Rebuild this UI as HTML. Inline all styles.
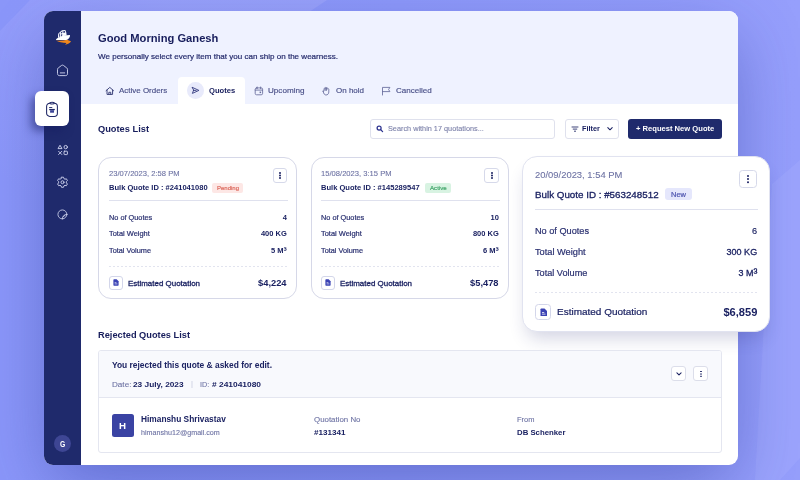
<!DOCTYPE html>
<html lang="en">
<head>
<meta charset="utf-8">
<title>Quotes Dashboard</title>
<style>
*{box-sizing:border-box;margin:0;padding:0}
html,body{width:800px;height:480px;overflow:hidden}
body{font-family:"Liberation Sans",sans-serif;color:#1b2262;position:relative;background:linear-gradient(90deg,#8b97fa 0%,#8f9afb 50%,#969ffc 100%)}
.abs{position:absolute}
.t{position:absolute;white-space:nowrap;line-height:1}
#win{position:absolute;left:44px;top:11.3px;width:694px;height:454.2px;border-radius:9px;background:#fff;
box-shadow:0 22px 68px -6px rgba(32,46,140,.42);overflow:hidden}
#side{position:absolute;left:0;top:0;width:37px;height:454px;background:#1f2a6c}
#head{position:absolute;left:37px;top:0;width:657px;height:92.7px;background:#eff2ff}
.card{position:absolute;background:#fff;border:1px solid #d6d8e8;border-radius:13px}
.btn{position:absolute;border:1px solid #dfe1ed;border-radius:3px;background:#fff}
.hr{position:absolute;height:1px;background:#dfe1ee}
.dash{position:absolute;height:1px;background:repeating-linear-gradient(90deg,#e2e4ef 0 2px,transparent 2px 4px)}
.badge{position:absolute;border-radius:2px}
.dots{position:absolute;width:2px;height:2px;border-radius:50%;background:#1b2262;box-shadow:0 2.5px 0 #1b2262,0 5px 0 #1b2262}
.ibox{position:absolute;border:1px solid #d3d6ea;border-radius:3px;background:#fff}
</style>
</head>
<body>
<!-- background decorative shapes -->
<svg class="abs" style="left:0;top:0" width="800" height="480" viewBox="0 0 800 480">
  <defs><linearGradient id="bg1" gradientUnits="userSpaceOnUse" x1="160" y1="0" x2="20" y2="190"><stop offset="0" stop-color="#9da5fc" stop-opacity=".8"/><stop offset=".45" stop-color="#9ba2fc" stop-opacity=".55"/><stop offset="1" stop-color="#9ba2fc" stop-opacity="0"/></linearGradient></defs>
  <polygon points="30,0 327,0 0,218 0,31" fill="url(#bg1)"/>
  <polygon points="800,160 772,184 755,480 780,480 800,458" fill="#9ea6fd" opacity=".7"/>
</svg>

<div id="win">
  <div id="side"></div>
  <div id="head"></div>
</div>

<div id="content" class="abs" style="left:0;top:0;width:800px;height:480px">

<!-- sidebar: logo -->
<svg class="abs" style="left:54px;top:28px" width="19" height="18" viewBox="0 0 19 18">
  <path d="M3.9 10 L4.2 5.7 L6.2 3.7 L8 2.3 L11.3 2 L12.3 4.6 L12.7 7.4 L9.4 8 Z" fill="#f7f8fc"/>
  <path d="M1.9 11.9 C2.4 10.8 3.4 10.1 4.6 9.8 L9.4 7.6 L16 6.9 C16.2 8.8 15 10.8 12.8 11.9 Z" fill="#ffffff"/>
  <path d="M5.1 5.9 L5.9 5.1 L5.9 8.6 L5.1 9 Z M6.9 4.3 L8.5 3.2 L8.3 4.8 L6.9 5.8 Z M9.4 3.1 L10.8 3 L11.2 4.4 L9.4 4.9 Z M6.9 6.8 L8.2 6 L8.2 7.6 L6.9 8.3 Z" fill="#2b3474"/>
  <path d="M1.9 12.4 C5 13 9.5 12.7 13 11.8 L17 13.2 C16.2 15 13.8 16 10.8 16.7 C11.9 15.8 12.3 15.3 12.4 14.9 C8.5 14.8 4.5 14 1.9 12.4 Z" fill="#f0871c"/>
</svg>
<!-- sidebar: home -->
<svg class="abs" style="left:56px;top:64px" width="13" height="13" viewBox="0 0 13 13" fill="none" stroke="#c9cdea" stroke-width="0.95" stroke-linejoin="round" stroke-linecap="round">
  <path d="M1.5 5.3 C1.5 4.7 1.8 4.3 2.2 4 L5.6 1.4 C6.2 1 6.8 1 7.4 1.4 L10.8 4 C11.2 4.3 11.5 4.7 11.5 5.3 V9.8 C11.5 10.9 10.7 11.6 9.7 11.6 H3.3 C2.3 11.6 1.5 10.9 1.5 9.8 Z"/>
  <path d="M4.3 8.9 H8.7"/>
</svg>
<!-- sidebar: active item -->
<div class="abs" style="left:34.5px;top:91.4px;width:34.5px;height:35px;border-radius:6px;background:#fff;box-shadow:-4px 5px 9px rgba(22,28,95,.5)"></div>
<svg class="abs" style="left:45px;top:101px" width="14" height="17" viewBox="0 0 14 17" fill="none" stroke="#1f2765" stroke-width="1.05" stroke-linejoin="round" stroke-linecap="round">
  <rect x="1.6" y="2.2" width="10.8" height="13.2" rx="3.2"/>
  <path d="M4.6 2.3 C4.6 0.9 9.4 0.9 9.4 2.3 C9.4 3.2 4.6 3.2 4.6 2.3 Z" fill="#fff"/>
  <path d="M4.5 6.5 H6.9" stroke="#1f2765" stroke-width="0.9"/>
  <rect x="4.2" y="7.9" width="5.6" height="1.3" fill="#1f2765" stroke="none"/>
  <rect x="5.1" y="9.2" width="3.9" height="2.5" fill="#3a4296" stroke="none"/>
</svg>
<!-- sidebar: shapes icon -->
<svg class="abs" style="left:57px;top:144px" width="12" height="12" viewBox="0 0 12 12" fill="none" stroke="#c9cdea" stroke-width="0.95" stroke-linejoin="round" stroke-linecap="round">
  <path d="M3.2 1.6 L5 4.6 H1.4 Z"/>
  <circle cx="8.7" cy="3.1" r="1.7"/>
  <path d="M1.6 7.3 L4.8 10.5 M4.8 7.3 L1.6 10.5"/>
  <rect x="7" y="7.2" width="3.4" height="3.4" rx="0.6"/>
</svg>
<!-- sidebar: gear -->
<svg class="abs" style="left:56px;top:175.6px" width="13" height="13" viewBox="0 0 13 13" fill="none" stroke="#c9cdea" stroke-width="0.95" stroke-linejoin="round" stroke-linecap="round">
  <path d="M5.5 1.2 H7.5 L7.9 2.6 L9 3.2 L10.4 2.8 L11.4 4.5 L10.4 5.6 V6.9 L11.4 8 L10.4 9.7 L9 9.3 L7.9 9.9 L7.5 11.3 H5.5 L5.1 9.9 L4 9.3 L2.6 9.7 L1.6 8 L2.6 6.9 V5.6 L1.6 4.5 L2.6 2.8 L4 3.2 L5.1 2.6 Z"/>
  <circle cx="6.5" cy="6.25" r="1.5"/>
</svg>
<!-- sidebar: sticker/circle -->
<svg class="abs" style="left:56.9px;top:209.3px" width="11.2" height="11.2" viewBox="0 0 12 12" fill="none" stroke="#c9cdea" stroke-width="0.95" stroke-linejoin="round" stroke-linecap="round">
  <path d="M10.6 5.8 A4.8 4.8 0 1 0 5.8 10.6 C8.4 10.4 10.4 8.4 10.6 5.8 Z"/>
  <path d="M5.8 10.6 C5.6 7.8 7.6 5.7 10.6 5.8"/>
  <path d="M6.6 8.6 L8.6 6.6"/>
</svg>
<!-- sidebar: avatar -->
<div class="abs" style="left:54px;top:434.8px;width:17px;height:17px;border-radius:50%;background:#3e4694"></div>

<!-- tabs -->
<div class="abs" style="left:178px;top:77px;width:67px;height:27px;background:#fff;border-radius:4px 4px 0 0"></div>
<svg class="abs" style="left:105.2px;top:86.2px" width="9.6" height="9.6" viewBox="0 0 9 9" fill="none" stroke="#3a4078" stroke-width="0.9" stroke-linejoin="round" stroke-linecap="round"><path d="M1 4.4 L4.5 1.3 L8 4.4 M1.9 3.8 V7.9 H7.1 V3.8 M3.6 7.9 V5.9 H5.4 V7.9"/></svg>
<div class="abs" style="left:187px;top:82px;width:16.6px;height:16.6px;border-radius:50%;background:#e8eafb"></div>
<svg class="abs" style="left:191px;top:86px" width="9" height="9" viewBox="0 0 9 9" fill="none" stroke="#2a3178" stroke-width="0.85" stroke-linejoin="round" stroke-linecap="round"><path d="M1.4 1.4 L7.9 4.4 L1.4 7.4 L2.5 4.4 Z M2.5 4.4 H5.1"/></svg>
<svg class="abs" style="left:253.8px;top:85.8px" width="10" height="10" viewBox="0 0 10 10" fill="none" stroke="#676c9c" stroke-width="0.85" stroke-linejoin="round" stroke-linecap="round"><rect x="1.2" y="1.9" width="7.4" height="6.9" rx="1.4"/><path d="M1.2 4.1 H8.6 M3.2 1 V2.7 M6.6 1 V2.7"/><rect x="5.6" y="5.6" width="1.5" height="1.5" fill="#676c9c" stroke="none"/></svg>
<svg class="abs" style="left:321.2px;top:86px" width="10" height="10" viewBox="0 0 10 10" fill="none" stroke="#676c9c" stroke-width="0.85" stroke-linejoin="round" stroke-linecap="round"><path d="M2.2 5.6 C1.6 4.4 2.6 3.8 3.2 4.6 V2.6 C3.2 1.8 4.3 1.8 4.3 2.6 V1.9 C4.3 1.1 5.5 1.1 5.5 1.9 V2.3 C5.5 1.6 6.7 1.6 6.7 2.4 V3.2 C6.7 2.6 7.8 2.6 7.8 3.4 V6 C7.8 7.8 6.6 9 5 9 C3.6 9 2.8 8 2.2 5.6 Z"/><path d="M4.3 2.6 V4.4 M5.5 2.3 V4.4"/></svg>
<svg class="abs" style="left:381.2px;top:86px" width="10" height="10" viewBox="0 0 10 10" fill="none" stroke="#676c9c" stroke-width="0.85" stroke-linejoin="round" stroke-linecap="round"><path d="M1.5 9 V1.4 H8.9 L7.6 3.5 L8.9 5.6 H1.5"/></svg>

<!-- toolbar -->
<div class="btn" style="left:370px;top:118.5px;width:185px;height:20px"></div>
<svg class="abs" style="left:376.3px;top:124.8px" width="8" height="8" viewBox="0 0 8 8" fill="none" stroke="#2f3590" stroke-width="1.25" stroke-linecap="round"><circle cx="3.1" cy="3.1" r="2"/><path d="M4.8 4.8 L6.6 6.6"/></svg>
<div class="btn" style="left:564.5px;top:118.5px;width:54px;height:20px"></div>
<svg class="abs" style="left:570.7px;top:124.5px" width="8" height="8" viewBox="0 0 8 8" fill="none" stroke="#1b2262" stroke-width="0.85"><path d="M0.6 2 H7.4 M1.8 4.1 H6.2 M3 6.2 H5"/></svg>
<svg class="abs" style="left:605.6px;top:125.6px" width="8" height="6" viewBox="0 0 8 6" fill="none" stroke="#1b2262" stroke-width="1.05" stroke-linecap="round" stroke-linejoin="round"><path d="M1.8 1.6 L4 3.8 L6.2 1.6"/></svg>
<div class="abs" style="left:627.7px;top:118.5px;width:94.3px;height:20px;border-radius:3px;background:#1f2a6c"></div>

<!-- card 1 -->
<div class="card" style="left:98px;top:157px;width:199.4px;height:141.6px"></div>
<div class="badge" style="left:212px;top:183px;width:31.4px;height:9.6px;background:#fde7e5"></div>
<div class="btn" style="left:272.6px;top:168.4px;width:14.4px;height:14.2px;border-color:#d6d9ea"></div>
<div class="dots" style="left:278.8px;top:172px"></div>
<div class="hr" style="left:108.8px;top:199.8px;width:178.8px"></div>
<div class="dash" style="left:108.8px;top:266.4px;width:178.8px"></div>
<div class="ibox" style="left:108.8px;top:276px;width:13.8px;height:13.6px"></div>
<svg class="abs" style="left:113px;top:279.3px" width="6" height="7" viewBox="0 0 6 7"><path d="M0.4 0.9 C0.4 0.5 0.7 0.3 1 0.3 H3.6 L5.6 2.3 V6.1 C5.6 6.4 5.3 6.7 5 6.7 H1 C0.7 6.7 0.4 6.4 0.4 6.1 Z" fill="#3a42b4"/><path d="M1.6 3.6 H3.4 M1.6 4.9 H4.4" stroke="#fff" stroke-width="0.6"/></svg>

<!-- card 2 -->
<div class="card" style="left:310.6px;top:157px;width:198.6px;height:141.6px"></div>
<div class="badge" style="left:425px;top:183px;width:26px;height:9.6px;background:#d8f3e2"></div>
<div class="btn" style="left:484.4px;top:168.4px;width:14.4px;height:14.2px;border-color:#d6d9ea"></div>
<div class="dots" style="left:490.8px;top:172px"></div>
<div class="hr" style="left:320.8px;top:199.8px;width:178.8px"></div>
<div class="dash" style="left:320.8px;top:266.4px;width:178.8px"></div>
<div class="ibox" style="left:320.8px;top:276px;width:13.8px;height:13.6px"></div>
<svg class="abs" style="left:325px;top:279.3px" width="6" height="7" viewBox="0 0 6 7"><path d="M0.4 0.9 C0.4 0.5 0.7 0.3 1 0.3 H3.6 L5.6 2.3 V6.1 C5.6 6.4 5.3 6.7 5 6.7 H1 C0.7 6.7 0.4 6.4 0.4 6.1 Z" fill="#3a42b4"/><path d="M1.6 3.6 H3.4 M1.6 4.9 H4.4" stroke="#fff" stroke-width="0.6"/></svg>

<!-- card 3 (highlighted) -->
<div class="abs" style="left:522px;top:156px;width:248.2px;height:176px;border-radius:15px;background:#fff;border:1px solid #e1e3f0;box-shadow:0 11px 18px -5px rgba(30,35,110,.2)"></div>
<div class="badge" style="left:665.2px;top:188px;width:26.4px;height:12.4px;border-radius:3px;background:#e5e7fc"></div>
<div class="btn" style="left:739.4px;top:169.6px;width:18px;height:18px;border-color:#d6d9ea;border-radius:3.5px"></div>
<div class="dots" style="left:747.2px;top:174.9px;width:2.2px;height:2.2px;box-shadow:0 3.1px 0 #1b2262,0 6.2px 0 #1b2262"></div>
<div class="hr" style="left:535px;top:209.2px;width:223px"></div>
<div class="dash" style="left:535px;top:292.2px;width:223px"></div>
<div class="ibox" style="left:535px;top:304px;width:16px;height:15.8px;border-radius:3.5px"></div>
<svg class="abs" style="left:539.5px;top:307.6px" width="7.5" height="8.75" viewBox="0 0 6 7"><path d="M0.4 0.9 C0.4 0.5 0.7 0.3 1 0.3 H3.6 L5.6 2.3 V6.1 C5.6 6.4 5.3 6.7 5 6.7 H1 C0.7 6.7 0.4 6.4 0.4 6.1 Z" fill="#3a42b4"/><path d="M1.6 3.6 H3.4 M1.6 4.9 H4.4" stroke="#fff" stroke-width="0.6"/></svg>

<!-- rejected quotes -->
<div class="abs" style="left:97.6px;top:350.4px;width:624.6px;height:102.2px;border:1px solid #e4e6f0;border-radius:3px;background:#fff;overflow:hidden">
  <div class="abs" style="left:0;top:0;width:100%;height:46.5px;background:#f8f9fd;border-bottom:1px solid #e4e6f0"></div>
</div>
<div class="btn" style="left:671.2px;top:366.4px;width:15.3px;height:15px;border-color:#dcdeea"></div>
<svg class="abs" style="left:674.9px;top:370.9px" width="8" height="6" viewBox="0 0 8 6" fill="none" stroke="#1b2262" stroke-width="1.05" stroke-linecap="round" stroke-linejoin="round"><path d="M1.9 1.8 L4 3.9 L6.1 1.8"/></svg>
<div class="btn" style="left:693px;top:366.4px;width:15.3px;height:15px;border-color:#dcdeea"></div>
<div class="dots" style="left:699.8px;top:370.5px;width:1.8px;height:1.8px;box-shadow:0 2.4px 0 #1b2262,0 4.8px 0 #1b2262"></div>
<div class="abs" style="left:111.6px;top:414px;width:22.4px;height:22.6px;border-radius:2.5px;background:#3a43a3"></div>

<div class="t" style="left:98px;top:32.7px;font-size:11.8px;color:#171d5c;font-weight:bold;transform:scaleX(0.9470);transform-origin:0 0">Good Morning Ganesh</div>
<div class="t" style="left:98px;top:52.6px;font-size:8px;color:#252b6c;-webkit-text-stroke:0.2px #252b6c;transform:scaleX(1.0057);transform-origin:0 0">We personally select every item that you can ship on the wearness.</div>
<div class="t" style="left:119.2px;top:87.4px;font-size:7.6px;color:#4a5088;-webkit-text-stroke:0.15px #4a5088;transform:scaleX(1.0478);transform-origin:0 0">Active Orders</div>
<div class="t" style="left:209.4px;top:87.4px;font-size:7.6px;color:#171d5c;font-weight:bold;transform:scaleX(1.0011);transform-origin:0 0">Quotes</div>
<div class="t" style="left:268.3px;top:87.4px;font-size:7.6px;color:#4a5088;-webkit-text-stroke:0.15px #4a5088;transform:scaleX(1.0676);transform-origin:0 0">Upcoming</div>
<div class="t" style="left:336.3px;top:87.4px;font-size:7.6px;color:#4a5088;-webkit-text-stroke:0.15px #4a5088;transform:scaleX(1.0523);transform-origin:0 0">On hold</div>
<div class="t" style="left:396px;top:87.4px;font-size:7.6px;color:#4a5088;-webkit-text-stroke:0.15px #4a5088;transform:scaleX(1.0598);transform-origin:0 0">Cancelled</div>
<div class="t" style="left:98px;top:124px;font-size:9.6px;color:#171d5c;font-weight:bold;transform:scaleX(0.9663);transform-origin:0 0">Quotes List</div>
<div class="t" style="left:387.6px;top:125.4px;font-size:7.3px;color:#7a7fa8;-webkit-text-stroke:0.1px #7a7fa8;transform:scaleX(1.0007);transform-origin:0 0">Search within 17 quotations...</div>
<div class="t" style="left:581.5px;top:125.4px;font-size:7.6px;color:#1b2262;font-weight:bold;transform:scaleX(0.9581);transform-origin:0 0">Filter</div>
<div class="t" style="left:636px;top:125.3px;font-size:7.8px;color:#ffffff;font-weight:bold;transform:scaleX(0.9742);transform-origin:0 0">+ Request New Quote</div>
<div class="t" style="left:108.8px;top:169.6px;font-size:7.6px;color:#6d72a3;-webkit-text-stroke:0.1px #6d72a3;transform:scaleX(1.0012);transform-origin:0 0">23/07/2023, 2:58 PM</div>
<div class="t" style="left:108.8px;top:184.4px;font-size:7.8px;color:#1b2262;font-weight:bold;transform:scaleX(0.9681);transform-origin:0 0">Bulk Quote ID : #241041080</div>
<div class="t" style="left:108.8px;top:213.5px;font-size:7.3px;color:#2a3070;-webkit-text-stroke:0.2px #2a3070;transform:scaleX(1.0047);transform-origin:0 0">No of Quotes</div>
<div class="t" style="left:108.8px;top:230.1px;font-size:7.3px;color:#2a3070;-webkit-text-stroke:0.2px #2a3070;transform:scaleX(1.0192);transform-origin:0 0">Total Weight</div>
<div class="t" style="left:108.8px;top:247px;font-size:7.3px;color:#2a3070;-webkit-text-stroke:0.2px #2a3070;transform:scaleX(1.0052);transform-origin:0 0">Total Volume</div>
<div class="t" style="right:513.2px;top:213.5px;font-size:7.5px;color:#1b2262;font-weight:bold">4</div>
<div class="t" style="right:513.2px;top:230.1px;font-size:7.5px;color:#1b2262;font-weight:bold">400 KG</div>
<div class="t" style="right:513.2px;top:247px;font-size:7.5px;color:#1b2262;font-weight:bold">5 M<span style="font-size:1.3em;line-height:0;vertical-align:-0.12em">³</span></div>
<div class="t" style="left:127.6px;top:279.7px;font-size:7.8px;color:#1b2262;-webkit-text-stroke:0.3px #1b2262;transform:scaleX(1.0190);transform-origin:0 0">Estimated Quotation</div>
<div class="t" style="right:513.2px;top:279px;font-size:9px;color:#1b2262;font-weight:bold;transform:scaleX(1.0352);transform-origin:100% 0">$4,224</div>
<div class="t" style="left:320.8px;top:169.6px;font-size:7.6px;color:#6d72a3;-webkit-text-stroke:0.1px #6d72a3;transform:scaleX(1.0012);transform-origin:0 0">15/08/2023, 3:15 PM</div>
<div class="t" style="left:320.8px;top:184.4px;font-size:7.8px;color:#1b2262;font-weight:bold;transform:scaleX(0.9681);transform-origin:0 0">Bulk Quote ID : #145289547</div>
<div class="t" style="left:320.8px;top:213.5px;font-size:7.3px;color:#2a3070;-webkit-text-stroke:0.2px #2a3070;transform:scaleX(1.0047);transform-origin:0 0">No of Quotes</div>
<div class="t" style="left:320.8px;top:230.1px;font-size:7.3px;color:#2a3070;-webkit-text-stroke:0.2px #2a3070;transform:scaleX(1.0192);transform-origin:0 0">Total Weight</div>
<div class="t" style="left:320.8px;top:247px;font-size:7.3px;color:#2a3070;-webkit-text-stroke:0.2px #2a3070;transform:scaleX(1.0052);transform-origin:0 0">Total Volume</div>
<div class="t" style="right:301.2px;top:213.5px;font-size:7.5px;color:#1b2262;font-weight:bold">10</div>
<div class="t" style="right:301.2px;top:230.1px;font-size:7.5px;color:#1b2262;font-weight:bold">800 KG</div>
<div class="t" style="right:301.2px;top:247px;font-size:7.5px;color:#1b2262;font-weight:bold">6 M<span style="font-size:1.3em;line-height:0;vertical-align:-0.12em">³</span></div>
<div class="t" style="left:339.6px;top:279.7px;font-size:7.8px;color:#1b2262;-webkit-text-stroke:0.3px #1b2262;transform:scaleX(1.0190);transform-origin:0 0">Estimated Quotation</div>
<div class="t" style="right:301.2px;top:279px;font-size:9px;color:#1b2262;font-weight:bold;transform:scaleX(1.0352);transform-origin:100% 0">$5,478</div>
<div class="t" style="left:217px;top:185.7px;font-size:5.9px;color:#dc6c60;-webkit-text-stroke:0.2px #dc6c60;transform:scaleX(1.0173);transform-origin:0 0">Pending</div>
<div class="t" style="left:429.6px;top:185.7px;font-size:5.9px;color:#45a76d;-webkit-text-stroke:0.2px #45a76d;transform:scaleX(1.0469);transform-origin:0 0">Active</div>
<div class="t" style="left:535px;top:171.2px;font-size:9.2px;color:#6d72a3;-webkit-text-stroke:0.1px #6d72a3;transform:scaleX(1.0245);transform-origin:0 0">20/09/2023, 1:54 PM</div>
<div class="t" style="left:535px;top:189.7px;font-size:9.8px;color:#1b2262;-webkit-text-stroke:0.3px #1b2262;transform:scaleX(0.9997);transform-origin:0 0">Bulk Quote ID : #563248512</div>
<div class="t" style="left:671px;top:192px;font-size:6.9px;color:#4f56b0;-webkit-text-stroke:0.2px #4f56b0;transform:scaleX(1.0872);transform-origin:0 0">New</div>
<div class="t" style="left:535px;top:226.6px;font-size:9.2px;color:#2a3070;-webkit-text-stroke:0.2px #2a3070;transform:scaleX(0.9974);transform-origin:0 0">No of Quotes</div>
<div class="t" style="left:535px;top:247.8px;font-size:9.2px;color:#2a3070;-webkit-text-stroke:0.2px #2a3070;transform:scaleX(1.0042);transform-origin:0 0">Total Weight</div>
<div class="t" style="left:535px;top:268.6px;font-size:9.2px;color:#2a3070;-webkit-text-stroke:0.2px #2a3070;transform:scaleX(0.9960);transform-origin:0 0">Total Volume</div>
<div class="t" style="right:42.8px;top:226.6px;font-size:9.2px;color:#1b2262;-webkit-text-stroke:0.15px #1b2262">6</div>
<div class="t" style="right:42.8px;top:247.8px;font-size:9.2px;color:#1b2262;-webkit-text-stroke:0.3px #1b2262;transform:scaleX(0.9821);transform-origin:100% 0">300 KG</div>
<div class="t" style="right:42.8px;top:268.6px;font-size:9.2px;color:#1b2262;-webkit-text-stroke:0.3px #1b2262;transform:scaleX(0.9735);transform-origin:100% 0">3 M<span style="font-size:1.3em;line-height:0;vertical-align:-0.12em">³</span></div>
<div class="t" style="left:556.6px;top:307.4px;font-size:9.8px;color:#1b2262;-webkit-text-stroke:0.2px #1b2262;transform:scaleX(1.0184);transform-origin:0 0">Estimated Quotation</div>
<div class="t" style="right:42.8px;top:306.6px;font-size:10.6px;color:#1b2262;font-weight:bold;transform:scaleX(1.0492);transform-origin:100% 0">$6,859</div>
<div class="t" style="left:98px;top:330.4px;font-size:9.6px;color:#171d5c;font-weight:bold;transform:scaleX(0.9640);transform-origin:0 0">Rejected Quotes List</div>
<div class="t" style="left:112px;top:361px;font-size:8.4px;color:#1b2262;font-weight:bold;transform:scaleX(1.0033);transform-origin:0 0">You rejected this quote &amp; asked for edit.</div>
<div class="t" style="left:112px;top:380.6px;font-size:7.6px;color:#6d72a3;-webkit-text-stroke:0.1px #6d72a3;transform:scaleX(1.0685);transform-origin:0 0">Date:</div>
<div class="t" style="left:133.4px;top:380.6px;font-size:7.8px;color:#1b2262;font-weight:bold;transform:scaleX(1.0642);transform-origin:0 0">23 July, 2023</div>
<div class="t" style="left:191px;top:380.2px;font-size:7.6px;color:#c5c8dc">|</div>
<div class="t" style="left:200px;top:380.6px;font-size:7.6px;color:#6d72a3;-webkit-text-stroke:0.1px #6d72a3;transform:scaleX(0.9466);transform-origin:0 0">ID:</div>
<div class="t" style="left:211.6px;top:380.6px;font-size:7.8px;color:#1b2262;font-weight:bold;transform:scaleX(1.0762);transform-origin:0 0"># 241041080</div>
<div class="t" style="left:119px;top:421px;font-size:9.8px;color:#ffffff;font-weight:bold;transform:scaleX(0.9890);transform-origin:0 0">H</div>
<div class="t" style="left:140.6px;top:415.4px;font-size:8.6px;color:#1b2262;font-weight:bold;transform:scaleX(0.9702);transform-origin:0 0">Himanshu Shrivastav</div>
<div class="t" style="left:140.6px;top:429.6px;font-size:6.8px;color:#6d72a3;-webkit-text-stroke:0.1px #6d72a3;transform:scaleX(1.0520);transform-origin:0 0">himanshu12@gmail.com</div>
<div class="t" style="left:314px;top:415.5px;font-size:7.3px;color:#6d72a3;-webkit-text-stroke:0.1px #6d72a3;transform:scaleX(1.0814);transform-origin:0 0">Quotation No</div>
<div class="t" style="left:314px;top:429px;font-size:7.8px;color:#1b2262;font-weight:bold;transform:scaleX(1.0376);transform-origin:0 0">#131341</div>
<div class="t" style="left:516.5px;top:415.5px;font-size:7.3px;color:#6d72a3;-webkit-text-stroke:0.1px #6d72a3;transform:scaleX(1.0275);transform-origin:0 0">From</div>
<div class="t" style="left:516.5px;top:429px;font-size:7.8px;color:#1b2262;font-weight:bold;transform:scaleX(0.9990);transform-origin:0 0">DB Schenker</div>
<div class="t" style="left:59.8px;top:439.8px;font-size:8.4px;color:#ffffff;font-weight:bold;transform:scaleX(0.8134);transform-origin:0 0">G</div>
</div>
</body>
</html>
